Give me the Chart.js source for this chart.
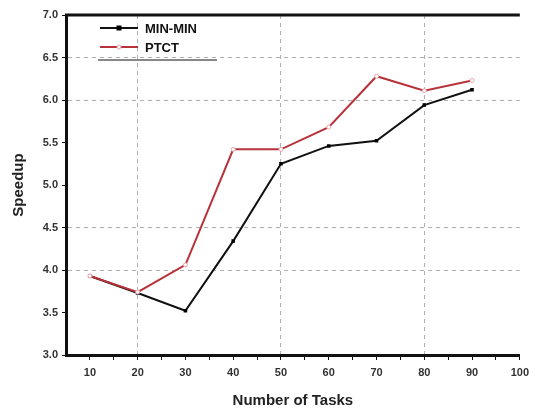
<!DOCTYPE html>
<html>
<head>
<meta charset="utf-8">
<script src="https://cdn.jsdelivr.net/npm/chart.js@4.4.1/dist/chart.umd.min.js"></script>
<style>
html,body{margin:0;padding:0;background:#fff;}
#wrap{width:535px;height:410px;position:relative;}
</style>
</head>
<body>
<div id="wrap"><canvas id="c" width="535" height="410"></canvas></div>
<script>
const taskCounts = [10, 20, 30, 40, 50, 60, 70, 80, 90];
const minMinSpeedup = [3.93, 3.73, 3.52, 4.34, 5.25, 5.46, 5.52, 5.94, 6.12];
const ptctSpeedup = [3.93, 3.74, 4.06, 5.42, 5.42, 5.68, 6.28, 6.11, 6.23];
const xTickValues = [10, 15, 20, 25, 30, 35, 40, 45, 50, 55, 60, 65, 70, 75, 80, 85, 90, 95, 100];
const xGridValues = [20, 50, 80];
const yGridValues = [4.0, 4.5, 6.0, 6.5];
const seriesNames = ['MIN-MIN', 'PTCT'];

const FONT = "'Liberation Sans', Arial, sans-serif";

const legendPlugin = {
  id: 'customLegend',
  afterDatasetsDraw(chart) {
    const ctx = chart.ctx;
    const area = chart.chartArea;
    ctx.save();
    ctx.setLineDash([]);
    // top border line
    ctx.strokeStyle = '#111';
    ctx.lineWidth = 3;
    ctx.beginPath();
    ctx.moveTo(area.left - 1, area.top);
    ctx.lineTo(area.right, area.top);
    ctx.stroke();
    // legend
    const items = chart.data.datasets;
    const x0 = 100, x1 = 138;
    items.forEach((ds, i) => {
      const y = 28 + i * 19;
      ctx.strokeStyle = ds.borderColor;
      ctx.lineWidth = 2;
      ctx.beginPath();
      ctx.moveTo(x0, y);
      ctx.lineTo(x1, y);
      ctx.stroke();
      const mx = (x0 + x1) / 2;
      if (i === 0) {
        ctx.fillStyle = '#000';
        ctx.fillRect(mx - 2.5, y - 2.5, 5, 5);
      } else {
        ctx.fillStyle = '#fff';
        ctx.strokeStyle = '#e8a0a8';
        ctx.lineWidth = 1;
        ctx.beginPath();
        ctx.arc(mx, y, 2, 0, Math.PI * 2);
        ctx.fill();
        ctx.stroke();
      }
      ctx.fillStyle = '#111';
      ctx.font = 'bold 13px ' + FONT;
      ctx.textBaseline = 'middle';
      ctx.textAlign = 'left';
      ctx.fillText(ds.label, 145, y + 1);
    });
    ctx.strokeStyle = '#888';
    ctx.lineWidth = 2;
    ctx.beginPath();
    ctx.moveTo(98, 60);
    ctx.lineTo(217, 60);
    ctx.stroke();
    ctx.restore();
  }
};

new Chart(document.getElementById('c'), {
  type: 'line',
  data: {
    datasets: [
      {
        label: seriesNames[0],
        data: taskCounts.map((t, i) => ({x: t, y: minMinSpeedup[i]})),
        borderColor: '#111',
        backgroundColor: '#000',
        borderWidth: 2,
        pointStyle: 'rect',
        pointRadius: 2.5,
        pointBorderWidth: 0,
        tension: 0,
        order: 2
      },
      {
        label: seriesNames[1],
        data: taskCounts.map((t, i) => ({x: t, y: ptctSpeedup[i]})),
        borderColor: '#b8323a',
        backgroundColor: '#fff',
        pointBorderColor: '#eaa5ad',
        borderWidth: 2,
        pointStyle: 'circle',
        pointRadius: 2,
        pointBorderWidth: 1,
        tension: 0,
        order: 1
      }
    ]
  },
  options: {
    responsive: false,
    animation: false,
    devicePixelRatio: 1,
    layout: {padding: {top: 15, right: 12, left: 0, bottom: 0}},
    plugins: {legend: {display: false}, tooltip: {enabled: false}},
    scales: {
      x: {
        type: 'linear',
        min: 5,
        max: 100,
        afterBuildTicks: (s) => { s.ticks = xTickValues.map(v => ({value: v})); },
        afterFit: (s) => { s.height = 55; },
        border: {color: '#111', width: 3, dash: [4, 4]},
        grid: {
          color: (c) => (c.tick && xGridValues.includes(c.tick.value)) ? '#b0b0b0' : 'rgba(0,0,0,0)',
          tickColor: '#111',
          tickLength: 5,
          tickBorderDash: [],
          lineWidth: 1,
          drawOnChartArea: true
        },
        ticks: {
          autoSkip: false,
          maxRotation: 0,
          padding: 6,
          color: '#333',
          font: {family: FONT, size: 11, weight: 'bold'},
          callback: (v) => (v % 10 === 0 ? String(v) : '')
        },
        title: {
          display: true,
          text: 'Number of Tasks',
          color: '#222',
          font: {family: FONT, size: 15, weight: 'bold'},
          padding: {top: 3, bottom: 0}
        }
      },
      y: {
        type: 'linear',
        min: 3,
        max: 7,
        afterBuildTicks: (s) => {
          const t = [];
          for (let v = 3; v <= 7.0001; v += 0.5) t.push({value: Math.round(v * 10) / 10});
          s.ticks = t;
        },
        afterFit: (s) => { s.width = 66; },
        border: {color: '#111', width: 3, dash: [4, 4]},
        grid: {
          color: (c) => (c.tick && yGridValues.includes(c.tick.value)) ? '#b0b0b0' : 'rgba(0,0,0,0)',
          tickColor: '#111',
          tickLength: 4,
          tickBorderDash: [],
          lineWidth: 1
        },
        ticks: {
          padding: 4,
          color: '#333',
          font: {family: FONT, size: 11, weight: 'bold'},
          callback: (v) => Number(v).toFixed(1)
        },
        title: {
          display: true,
          text: 'Speedup',
          color: '#222',
          font: {family: FONT, size: 15, weight: 'bold'},
          padding: {top: 10, bottom: 4}
        }
      }
    }
  },
  plugins: [legendPlugin]
});
</script>
</body>
</html>
